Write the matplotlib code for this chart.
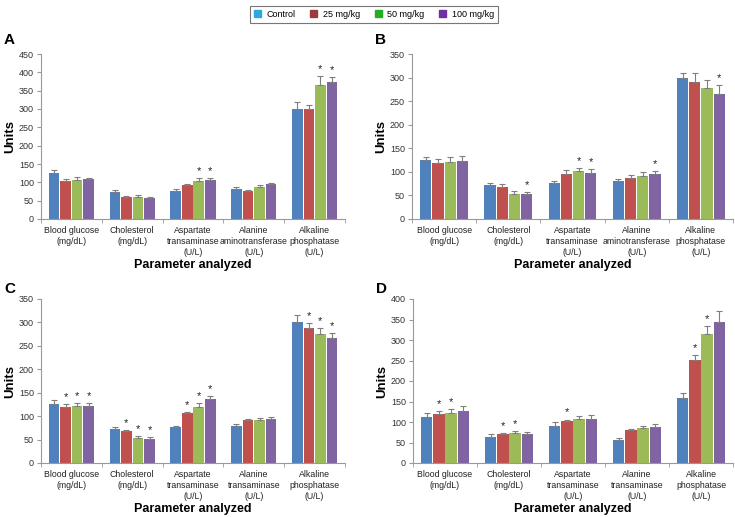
import matplotlib
matplotlib.use('Agg')
import matplotlib.pyplot as plt
import numpy as np

plt.rcParams['font.family'] = ['Liberation Sans', 'DejaVu Sans']

groups = ['Control', '25 mg/kg', '50 mg/kg', '100 mg/kg']
bar_colors = ['#4F81BD', '#C0504D', '#9BBB59', '#8064A2']
legend_colors = ['#2DA8E0', '#9A3B3B', '#22B022', '#7030A0']

labels_ab = ['Blood glucose\n(mg/dL)', 'Cholesterol\n(mg/dL)', 'Aspartate\ntransaminase\n(U/L)',
             'Alanine\naminotransferase\n(U/L)', 'Alkaline\nphosphatase\n(U/L)']
labels_cd = ['Blood glucose\n(mg/dL)', 'Cholesterol\n(mg/dL)', 'Aspartate\ntransaminase\n(U/L)',
             'Alanine\ntransaminase\n(U/L)', 'Alkaline\nphosphatase\n(U/L)']

# rows = parameter, cols = Control, 25, 50, 100 mg/kg
mean_a = [[125, 104, 107, 110], [73, 59, 61, 58], [77, 92, 105, 107], [81, 77, 86, 95], [300, 300, 366, 374]]
err_a = [[8, 6, 8, 3], [7, 3, 5, 2], [6, 3, 8, 5], [5, 2, 7, 3], [19, 10, 23, 13]]
star_a = [[0, 0, 0, 0], [0, 0, 0, 0], [0, 0, 1, 1], [0, 0, 0, 0], [0, 0, 1, 1]]

mean_b = [[126, 119, 121, 123], [73, 68, 54, 53], [77, 96, 101, 97], [80, 87, 91, 95], [300, 290, 277, 265]]
err_b = [[6, 8, 10, 10], [3, 6, 5, 5], [3, 8, 8, 9], [5, 6, 9, 6], [10, 19, 18, 19]]
star_b = [[0, 0, 0, 0], [0, 0, 0, 1], [0, 0, 1, 1], [0, 0, 0, 1], [0, 0, 0, 1]]

mean_c = [[125, 120, 121, 122], [72, 68, 54, 52], [76, 106, 120, 137], [80, 91, 92, 94], [300, 289, 276, 266]]
err_c = [[9, 5, 7, 6], [4, 3, 4, 3], [4, 3, 7, 6], [4, 3, 4, 5], [16, 10, 13, 11]]
star_c = [[0, 1, 1, 1], [0, 1, 1, 1], [0, 1, 1, 1], [0, 0, 0, 0], [0, 1, 1, 1]]

mean_d = [[112, 120, 121, 127], [64, 70, 72, 70], [91, 103, 107, 108], [56, 80, 85, 87], [158, 252, 315, 345]]
err_d = [[9, 6, 11, 11], [6, 3, 6, 5], [8, 3, 8, 8], [5, 3, 6, 8], [13, 11, 20, 25]]
star_d = [[0, 1, 1, 0], [0, 1, 1, 0], [0, 1, 0, 0], [0, 0, 0, 0], [0, 1, 1, 0]]

panels = [
    ('A', mean_a, err_a, star_a, labels_ab, 450, [41, 345, 54, 219], 14),
    ('B', mean_b, err_b, star_b, labels_ab, 350, [412, 733, 54, 219], 14),
    ('C', mean_c, err_c, star_c, labels_cd, 350, [41, 345, 299, 463], 10),
    ('D', mean_d, err_d, star_d, labels_cd, 400, [413, 733, 299, 463], 10),
]

W, H = 735, 517
fig = plt.figure(figsize=(W / 100, H / 100), dpi=100)

bw = 0.175
step = 0.19
x = np.arange(5)

for letter, means, errs, stars, labels, ymax, (l, r, t, b), off in panels:
    ax = fig.add_axes([l / W, 1 - b / H, (r - l) / W, (b - t) / H])
    m = np.array(means)
    e = np.array(errs)
    s = np.array(stars)
    for j in range(4):
        xs = x + (j - 1.5) * step
        ax.bar(xs, m[:, j], bw, color=bar_colors[j],
               yerr=[np.zeros(5), e[:, j]], capsize=2,
               error_kw=dict(ecolor='#7f7f7f', elinewidth=0.8, capthick=0.8))
        for i in range(5):
            if s[i, j]:
                ax.text(xs[i], m[i, j] + e[i, j] + ymax * 0.012, '*', ha='center', va='bottom',
                        fontsize=8, color='#222222')
    ax.set_xlim(-0.5, 4.5)
    ax.set_ylim(0, ymax)
    ax.set_yticks(np.arange(0, ymax + 1, 50))
    ax.set_xticks(x)
    ax.set_xticklabels(labels, fontsize=6.3, color='#222222', linespacing=1.3)
    ax.set_xticks(np.arange(-0.5, 5, 1), minor=True)
    ax.tick_params(axis='x', which='major', length=0, pad=5)
    ax.tick_params(axis='x', which='minor', length=3, color='#999999')
    ax.tick_params(axis='y', labelsize=6.5, length=3, pad=2, color='#999999', labelcolor='#333333')
    for sp in ['top', 'right']:
        ax.spines[sp].set_visible(False)
    for sp in ['left', 'bottom']:
        ax.spines[sp].set_color('#999999')
        ax.spines[sp].set_linewidth(0.8)
    ax.set_ylabel('Units', fontsize=9.5, fontweight='bold', labelpad=2)
    ax.set_xlabel('Parameter analyzed', fontsize=9, fontweight='bold', labelpad=1.5)
    fig.text((l - 37) / W, 1 - (t - off) / H, letter, fontsize=11, fontweight='bold', va='center', ha='left')

handles = [plt.Rectangle((0, 0), 1, 1, color=c) for c in legend_colors]
leg = fig.legend(handles, groups, loc='upper center', bbox_to_anchor=(374 / W, 1 - 1 / H), ncol=4,
                 fontsize=6.5, frameon=True, fancybox=False, handlelength=0.8, handleheight=0.8,
                 columnspacing=1.6, handletextpad=0.6, borderpad=0.45)
leg.get_frame().set_edgecolor('#555555')
leg.get_frame().set_linewidth(0.8)

fig.savefig('out.png', dpi=100)
